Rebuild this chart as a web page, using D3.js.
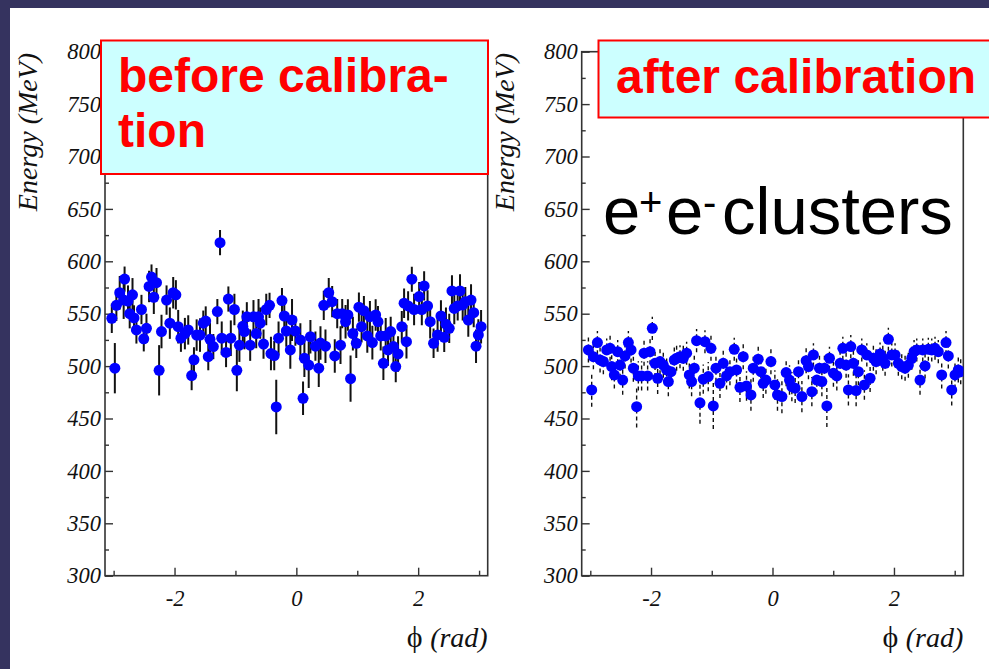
<!DOCTYPE html>
<html><head><meta charset="utf-8">
<script src="https://cdn.jsdelivr.net/npm/d3@7"></script>
<style>html,body{margin:0;padding:0;background:#fff;overflow:hidden}</style>
</head><body><svg id="c" width="989" height="669"></svg>
<script>
// ---------- data ----------
const yTicks = [300, 350, 400, 450, 500, 550, 600, 650, 700, 750, 800];
const yMinor = [325, 375, 425, 475, 525, 575, 625, 675, 725, 775];
const xTicks = [-2, 0, 2];
const xMinor = [-3, -1, 1, 3];

const beforePhi = [-3.03,-2.98,-2.955,-2.90,-2.835,-2.82,-2.764,-2.736,-2.69,-2.665,-2.626,-2.543,-2.505,-2.461,-2.418,-2.378,-2.34,-2.296,-2.253,-2.214,-2.131,-2.077,-2.022,-1.978,-1.94,-1.895,-1.83,-1.775,-1.719,-1.681,-1.637,-1.582,-1.528,-1.488,-1.446,-1.418,-1.363,-1.297,-1.253,-1.225,-1.154,-1.116,-1.076,-1.017,-0.977,-0.935,-0.879,-0.852,-0.813,-0.758,-0.704,-0.659,-0.621,-0.593,-0.539,-0.494,-0.44,-0.417,-0.363,-0.33,-0.292,-0.236,-0.198,-0.165,-0.099,-0.071,-0.016,0.066,0.11,0.132,0.203,0.231,0.313,0.368,0.396,0.45,0.478,0.532,0.588,0.631,0.671,0.725,0.753,0.808,0.846,0.89,0.928,0.984,1.027,1.071,1.109,1.165,1.208,1.248,1.302,1.34,1.385,1.429,1.467,1.505,1.549,1.594,1.632,1.67,1.731,1.769,1.808,1.835,1.896,1.933,2.016,2.06,2.098,2.154,2.197,2.253,2.319,2.374,2.428,2.456,2.51,2.555,2.593,2.649,2.687,2.731,2.774,2.823,2.868,2.912,2.95,2.988,3.033];
const beforeE = [545.6,498,558,570,563,583,562,550,568,546,534.5,554,526,536,576,585,565.7,579.6,496,533,563,541,570,568,537.6,526.6,531,534.5,491,506,529.6,529.6,541,543,509,525.6,518.6,552,617.8,526.6,513,564,526.6,554,496,520,538,533,547,520,547,531,547,541,521,554,558,512,510,461,526.6,562.5,547.8,533.5,515.4,544,533.5,525,469.3,507.5,501,528,519,498,522,558,519,570,561.5,509.7,550,520,550,542.4,548.8,488,531,521.8,556.2,537.6,552.9,528.8,547.2,522.4,548.8,542.4,528.8,502.7,528.8,515.4,533,518.6,499.5,511.6,537.6,560,523.3,557.4,582.9,554,566.3,554,576.5,557.4,542.4,521.8,529.7,547.8,527.5,540,536,571.7,555,557.4,571.7,558.4,561.5,544,563,551,519,529.7,537.6];
const beforeErr = [14,24,15,16,18,12,15,14,16,12,13,14,12,14,15,12,16,14,24,16,14,15,15,14,16,13,15,14,14,12,15,16,12,14,13,16,12,12,12,16,14,12,17,15,20,16,15,17,14,15,16,14,17,15,14,15,12,16,14,26,16,12,16,15,18,20,14,16,16,18,22,16,14,18,16,14,16,14,15,16,14,18,14,16,15,22,16,14,14,15,14,16,15,16,15,15,14,16,17,15,14,16,15,17,15,14,16,14,12,15,14,15,14,15,16,14,16,15,14,16,14,15,15,14,16,15,14,16,15,14,16,15,16];

const afterPhi = [-3.031,-2.977,-2.949,-2.883,-2.839,-2.785,-2.73,-2.674,-2.648,-2.604,-2.549,-2.51,-2.467,-2.428,-2.373,-2.329,-2.291,-2.237,-2.209,-2.155,-2.115,-2.056,-2.016,-1.979,-1.934,-1.891,-1.852,-1.798,-1.743,-1.715,-1.671,-1.617,-1.579,-1.523,-1.469,-1.414,-1.37,-1.332,-1.288,-1.25,-1.194,-1.14,-1.112,-1.058,-1.013,-0.975,-0.931,-0.865,-0.811,-0.757,-0.701,-0.63,-0.592,-0.536,-0.482,-0.428,-0.355,-0.317,-0.235,-0.191,-0.153,-0.109,-0.026,0.039,0.082,0.155,0.225,0.28,0.319,0.373,0.428,0.484,0.554,0.592,0.648,0.674,0.73,0.773,0.813,0.855,0.895,0.938,1.003,1.059,1.113,1.158,1.212,1.25,1.289,1.332,1.377,1.414,1.47,1.513,1.553,1.607,1.661,1.706,1.771,1.816,1.854,1.908,1.964,2.018,2.072,2.128,2.183,2.237,2.293,2.331,2.375,2.429,2.474,2.512,2.566,2.622,2.676,2.73,2.786,2.857,2.895,2.951,3.005,3.059,3.099];
const afterE = [515.4,477.3,509,522.4,505.9,504.3,515.4,517,499.5,491.6,513.8,501,486.7,509.7,522.4,515.4,498,461.3,490.6,490.6,512.3,490.6,513.8,536,502.7,488.4,504.3,501,496.3,485.2,494.7,505.9,507.5,509,507.5,512.3,491.6,485.2,498,524.3,465,487.5,523.3,490,517,462,498,483.6,502.7,490.6,494.7,516,496.3,479.8,509,481,472.5,498,506.6,494.7,483.6,486.7,504.3,482,472.5,470.9,493.8,486.7,480.4,478.9,494.7,470.9,505.2,499.5,475.6,510.7,486.7,498,485.2,498,462,507.5,493.2,490.6,502.7,517,501,477.3,518.6,502.7,476.6,494.7,515.4,482,510.7,488.4,507.5,504.3,511.6,507.5,502.7,525.6,510.7,510.7,502.7,499.5,498,501,507.5,513.8,515.4,486.7,515.4,500.2,516,515.4,517,513.8,491.6,522.4,509.7,477.3,491.6,496.3,494.7];
const afterErr = [12,16,12,11,12,12,11,12,13,13,11,12,14,12,11,12,13,20,14,14,12,14,12,11,13,15,12,12,13,14,13,12,12,11,12,11,13,14,12,11,20,14,11,14,12,22,13,14,12,13,13,11,13,14,12,14,15,13,12,13,14,13,12,14,15,16,13,14,14,14,13,15,12,12,14,11,13,12,14,12,20,11,13,14,12,11,12,15,11,12,15,13,11,14,11,13,12,12,11,12,12,11,11,11,12,12,12,12,11,11,11,14,11,12,11,11,11,11,13,11,12,15,13,12,12];

// ---------- drawing ----------
const svg = d3.select("#c");
svg.append("rect").attr("x",0).attr("y",0).attr("width",989).attr("height",669).attr("fill","#ffffff");
svg.append("rect").attr("x",0).attr("y",0).attr("width",989).attr("height",8).attr("fill","#35335f");
svg.append("rect").attr("x",0).attr("y",0).attr("width",10).attr("height",669).attr("fill","#35335f");

const SERIF = "'Liberation Serif', 'Times New Roman', serif";
const SANS = "'Liberation Sans', Arial, sans-serif";

function panel(cfg, id) {
  const x = d3.scaleLinear().domain([-Math.PI, Math.PI]).range([cfg.x0, cfg.x1]);
  const y = d3.scaleLinear().domain([300, 800]).range([575.7, 51.7]);
  const g = svg.append("g");

  g.append("clipPath").attr("id", "clip" + id).append("rect")
    .attr("x", x(-Math.PI)).attr("y", y(800))
    .attr("width", x(Math.PI) - x(-Math.PI)).attr("height", y(300) - y(800));

  // y axis
  const ya = g.append("g").attr("transform", `translate(${x(-Math.PI)},0)`)
    .call(d3.axisLeft(y).tickValues(yTicks).tickSize(-8).tickPadding(4).tickFormat(d => String(d)));
  const ym = g.append("g").attr("transform", `translate(${x(-Math.PI)},0)`)
    .call(d3.axisLeft(y).tickValues(yMinor).tickSize(-4).tickFormat(""));
  // x axis
  const xa = g.append("g").attr("transform", `translate(0,${y(300)})`)
    .call(d3.axisBottom(x).tickValues(xTicks).tickSize(-8).tickPadding(14).tickFormat(d => String(d)));
  const xm = g.append("g").attr("transform", `translate(0,${y(300)})`)
    .call(d3.axisBottom(x).tickValues(xMinor).tickSize(-5).tickFormat(""));
  [ya, ym, xa, xm].forEach(a => {
    a.select(".domain").remove();
    a.selectAll("line").attr("stroke", "#333").attr("stroke-width", 1.4);
    a.selectAll("text").attr("font-family", SERIF).attr("font-style", "italic")
      .attr("font-size", 22.5).attr("fill", "#111");
  });

  // frame
  g.append("rect").attr("x", x(-Math.PI)).attr("y", y(800))
    .attr("width", x(Math.PI) - x(-Math.PI)).attr("height", y(300) - y(800))
    .attr("fill", "none").attr("stroke", "#333").attr("stroke-width", 1.6);

  // data
  const pts = cfg.phi.map((p, i) => ({ p, e: cfg.E[i], s: cfg.err[i] }));
  const dg = g.append("g").attr("clip-path", `url(#clip${id})`);
  dg.selectAll("line.err").data(pts).join("line").attr("class", "err")
    .attr("x1", d => x(d.p)).attr("x2", d => x(d.p))
    .attr("y1", d => y(d.e - d.s)).attr("y2", d => y(d.e + d.s))
    .attr("stroke", "#111").attr("stroke-width", cfg.barW)
    .attr("stroke-dasharray", cfg.dash);
  dg.selectAll("circle").data(pts).join("circle")
    .attr("cx", d => x(d.p)).attr("cy", d => y(d.e)).attr("r", 5.5)
    .attr("fill", "#0000ff");

  // axis titles
  g.append("text").attr("transform", `translate(${cfg.ytX},132) rotate(-90)`)
    .attr("text-anchor", "middle").attr("font-family", SERIF).attr("font-style", "italic")
    .attr("font-size", 28).attr("fill", "#111").text("Energy (MeV)");
  const xt = g.append("text").attr("x", x(Math.PI)).attr("y", 647).attr("text-anchor", "end")
    .attr("font-family", SERIF).attr("font-size", 28).attr("fill", "#111");
  xt.append("tspan").attr("font-size", 30).text("ϕ ");
  xt.append("tspan").attr("font-style", "italic").text("(rad)");
}

panel({ x0: 105, x1: 487.7, phi: beforePhi, E: beforeE, err: beforeErr, ytX: 37, barW: 2, dash: null }, 1);
panel({ x0: 581.7, x1: 963.3, phi: afterPhi, E: afterE, err: afterErr, ytX: 514, barW: 1.4, dash: "4,3" }, 2);

// label boxes
svg.append("rect").attr("x", 101).attr("y", 40.5).attr("width", 387).attr("height", 133.5)
  .attr("fill", "#ccffff").attr("stroke", "#ff0000").attr("stroke-width", 2);
svg.append("text").attr("x", 118).attr("y", 92).attr("font-family", SANS).attr("font-weight", "bold")
  .attr("font-size", 48).attr("fill", "#ff0000").text("before calibra-");
svg.append("text").attr("x", 118).attr("y", 147).attr("font-family", SANS).attr("font-weight", "bold")
  .attr("font-size", 48).attr("fill", "#ff0000").text("tion");

svg.append("rect").attr("x", 598.5).attr("y", 40.5).attr("width", 420).attr("height", 77)
  .attr("fill", "#ccffff").attr("stroke", "#ff0000").attr("stroke-width", 2);
svg.append("text").attr("x", 616).attr("y", 93).attr("font-family", SANS).attr("font-weight", "bold")
  .attr("font-size", 48).attr("fill", "#ff0000").text("after calibration");

// e+ e- clusters
const ct = svg.append("text").attr("y", 234).attr("font-family", SANS).attr("font-size", 67).attr("fill", "#000");
ct.append("tspan").attr("x", 603).text("e");
ct.append("tspan").attr("x", 639).attr("dy", -18).attr("font-size", 40).text("+");
ct.append("tspan").attr("x", 666).attr("dy", 18).text("e");
ct.append("tspan").attr("x", 703).attr("dy", -18).attr("font-size", 40).text("-");
ct.append("tspan").attr("x", 722).attr("dy", 18).text("clusters");
</script></body></html>
